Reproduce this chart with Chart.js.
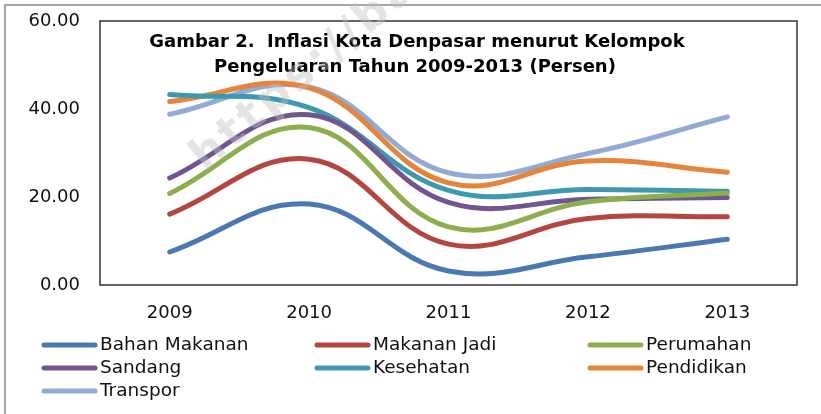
<!DOCTYPE html>
<html>
<head>
<meta charset="utf-8">
<script src="https://cdn.jsdelivr.net/npm/chart.js@4/dist/chart.umd.min.js"></script>
<style>
  html, body { margin: 0; padding: 0; background: #fff; }
  #wrap { width: 821px; height: 414px; position: relative; }
</style>
</head>
<body>
<div id="wrap"><canvas id="grafik" width="821" height="414"></canvas></div>
<script>
// Data: Inflasi Kota Denpasar menurut kelompok pengeluaran (persen)
const tahun = ['2009', '2010', '2011', '2012', '2013'];
const bahanMakanan = [7.5, 18.4, 3.2, 6.4, 10.4];
const makananJadi  = [16.1, 28.6, 9.3, 15.1, 15.5];
const perumahan    = [20.8, 35.8, 13.2, 18.9, 20.9];
const sandang      = [24.3, 38.7, 18.8, 19.5, 19.9];
const kesehatan    = [43.3, 40.3, 21.5, 21.7, 21.3];
const pendidikan   = [41.7, 44.8, 23.2, 28.2, 25.6];
const transpor     = [38.8, 45.0, 25.5, 29.9, 38.2];
const yTicks = [0, 20, 40, 60];

const judul = ['Gambar 2.  Inflasi Kota Denpasar menurut Kelompok',
               'Pengeluaran Tahun 2009-2013 (Persen)'];

const seri = [
  { label: 'Bahan Makanan', data: bahanMakanan, color: '#4a78b0' },
  { label: 'Makanan Jadi',  data: makananJadi,  color: '#b4463f' },
  { label: 'Perumahan',     data: perumahan,    color: '#8dae4c' },
  { label: 'Sandang',       data: sandang,      color: '#71558f' },
  { label: 'Kesehatan',     data: kesehatan,    color: '#3e98ae' },
  { label: 'Pendidikan',    data: pendidikan,   color: '#e5843b' },
  { label: 'Transpor',      data: transpor,     color: '#92abd4' }
];

const police = 'DejaVu Sans';

/* Cadre gris extérieur + boîte du graphique */
const cadre = {
  id: 'cadre',
  beforeDraw(chart) {
    const { ctx, chartArea: a } = chart;
    ctx.save();
    ctx.strokeStyle = '#a6a6a6';
    ctx.lineWidth = 2;
    ctx.strokeRect(5, 5, 840, 440);
    ctx.strokeStyle = '#333';
    ctx.lineWidth = 1.5;
    ctx.strokeRect(a.left, a.top, a.right - a.left, a.bottom - a.top);
    ctx.restore();
  }
};

/* Titre dans la zone du graphique, filigrane et légende sur 3 colonnes */
const decor = {
  id: 'decor',
  afterDatasetsDraw(chart) {
    const { ctx } = chart;
    ctx.save();
    ctx.fillStyle = '#000';
    ctx.font = `bold 18px ${police}`;
    ctx.textAlign = 'center';
    ctx.textBaseline = 'middle';
    ctx.fillText(judul[0], 417, 42);
    ctx.fillText(judul[1], 415, 67);
    ctx.restore();

    ctx.save();
    // filigrane
    ctx.translate(205, 172);
    ctx.rotate(-40 * Math.PI / 180);
    ctx.font = `bold 44px ${police}`;
    ctx.letterSpacing = '4px';
    ctx.fillStyle = 'rgba(190,190,190,0.42)';
    ctx.textBaseline = 'alphabetic';
    ctx.fillText('https://bali.bps.go.id', 0, 0);
    ctx.restore();
  },
  afterDraw(chart) {
    const { ctx } = chart;
    const colX = [42, 315, 588];
    const rowY = [345, 368, 391];
    ctx.save();
    ctx.font = `18.5px ${police}`;
    ctx.textBaseline = 'middle';
    ctx.lineCap = 'round';
    ctx.lineWidth = 5;
    chart.data.datasets.forEach((ds, i) => {
      const x = colX[i % 3];
      const y = rowY[Math.floor(i / 3)];
      ctx.strokeStyle = ds.borderColor;
      ctx.beginPath();
      ctx.moveTo(x + 2, y);
      ctx.lineTo(x + 53, y);
      ctx.stroke();
      ctx.fillStyle = '#111';
      ctx.fillText(ds.label, x + 58, y);
    });
    ctx.restore();
  }
};

const ctx = document.getElementById('grafik').getContext('2d');
new Chart(ctx, {
  type: 'line',
  data: {
    labels: tahun,
    datasets: seri.map(s => ({
      label: s.label,
      data: s.data,
      borderColor: s.color,
      backgroundColor: s.color,
      borderWidth: 5,
      borderCapStyle: 'round',
      tension: 0.4,
      pointRadius: 0,
      fill: false
    }))
  },
  options: {
    responsive: false,
    animation: false,
    layout: { padding: { left: 0, right: 24, top: 21, bottom: 0 } },
    plugins: {
      legend: { display: false },
      title: { display: false },
      tooltip: { enabled: false }
    },
    scales: {
      x: {
        offset: true,
        grid: { display: false, drawTicks: false },
        border: { display: false },
        ticks: { color: '#111', font: { family: police, size: 18 }, padding: 18 },
        afterFit: (s) => { s.height = 414 - 285; s.paddingLeft = 0; s.paddingRight = 0; }
      },
      y: {
        min: 0,
        max: 60,
        grid: { display: false, drawTicks: false },
        border: { display: false },
        afterBuildTicks: (s) => { s.ticks = yTicks.map(v => ({ value: v })); },
        ticks: {
          color: '#111',
          font: { family: police, size: 18 },
          padding: 20,
          callback: (v) => Number(v).toFixed(2)
        },
        afterFit: (s) => { s.width = 100; s.paddingTop = 0; s.paddingBottom = 0; }
      }
    }
  },
  plugins: [cadre, decor]
});
</script>
</body>
</html>
